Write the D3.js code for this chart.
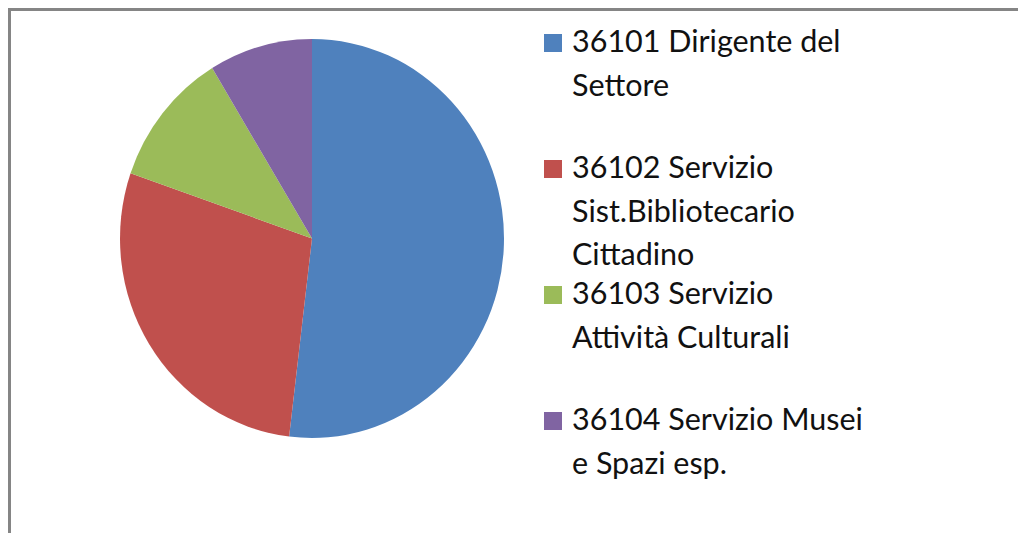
<!DOCTYPE html>
<html>
<head>
<meta charset="utf-8">
<script src="https://cdn.jsdelivr.net/npm/d3@7"></script>
<style>
  html, body { margin: 0; padding: 0; background: #fff; }
  svg { display: block; }
  .legendText { font-family: Lato, 'Open Sans', sans-serif; font-size: 30.5px; fill: #111; }
</style>
</head>
<body>
<svg id="chart" width="1018" height="533"></svg>
<script>
// chart data
const categories = ['36101 Dirigente del Settore', '36102 Servizio Sist.Bibliotecario Cittadino',
  '36103 Servizio Attività Culturali', '36104 Servizio Musei e Spazi esp.'];
const shares = [51.9, 28.4, 11.0, 8.7];
const legendLines = [
  ['36101 Dirigente del', 'Settore'],
  ['36102 Servizio', 'Sist.Bibliotecario', 'Cittadino'],
  ['36103 Servizio', 'Attività Culturali'],
  ['36104 Servizio Musei', 'e Spazi esp.']
];
const colors = ['#4f81bd', '#c0504d', '#9bbb59', '#8064a2'];

const svg = d3.select('#chart');

// chart frame (runs off the right and bottom edges)
svg.append('rect')
  .attr('x', 9.5)
  .attr('y', 9.5)
  .attr('width', 1100)
  .attr('height', 600)
  .attr('fill', 'none')
  .attr('stroke', '#858585')
  .attr('stroke-width', 3);

const color = d3.scaleOrdinal().domain(categories).range(colors);

const pie = d3.pie().sort(null).value(d => d.value);
const arcs = pie(categories.map((c, i) => ({name: c, value: shares[i]})));

const radius = 192;
const arc = d3.arc().innerRadius(0).outerRadius(radius);

// the original picture is slightly stretched vertically
const pieGroup = svg.append('g')
  .attr('transform', 'translate(312,238.5) scale(1,1.039)');

pieGroup.selectAll('path.slice')
  .data(arcs)
  .enter()
  .append('path')
  .attr('class', 'slice')
  .attr('d', arc)
  .attr('fill', d => color(d.data.name));

// legend
const legendX = 544;
const entryStep = 126;
const lineStep = 43.5;
const firstBaseline = 52;

const legend = svg.append('g').attr('class', 'legend');

const entry = legend.selectAll('g.entry')
  .data(categories)
  .enter()
  .append('g')
  .attr('class', 'entry')
  .attr('transform', (d, i) => 'translate(' + legendX + ',' + (firstBaseline + entryStep * i) + ')');

entry.append('rect')
  .attr('x', 0)
  .attr('y', -18)
  .attr('width', 18)
  .attr('height', 18)
  .attr('fill', d => color(d));

entry.append('text')
  .attr('class', 'legendText')
  .selectAll('tspan')
  .data((d, i) => legendLines[i])
  .enter()
  .append('tspan')
  .attr('x', 28)
  .attr('y', (d, j) => j * lineStep)
  .text(d => d);
</script>
</body>
</html>
